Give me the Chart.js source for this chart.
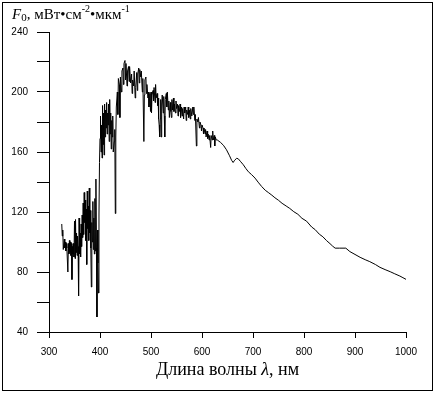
<!DOCTYPE html>
<html>
<head>
<meta charset="utf-8">
<script src="https://cdn.jsdelivr.net/npm/chart.js@4/dist/chart.umd.min.js"></script>
<style>
    body { margin: 0; background: #fff; }
    #wrap { position: relative; width: 435px; height: 393px; }
    #frame { position: absolute; left: 2px; top: 2px; width: 429px; height: 387px; border: 1px solid #000; pointer-events: none; }
    .lbl { position: absolute; font-family: 'Liberation Serif', 'Times New Roman', serif; color: #000; white-space: nowrap; }
    #yTitle { left: 12px; top: 7px; font-size: 15px; line-height: 15px; }
    #xTitle { left: 0; width: 455px; text-align: center; top: 360px; font-size: 18px; line-height: 18px; }
    .sub { font-size: 11px; position: relative; top: 2px; }
    .sup { font-size: 10px; position: relative; top: -7px; }
</style>
</head>
<body>
<div id="wrap">
    <canvas id="spectrum" width="435" height="393"></canvas>
    <div class="lbl" id="yTitle"><i>F</i><span class="sub">0</span>, мВт•см<span class="sup">-2</span>•мкм<span class="sup">-1</span></div>
    <div class="lbl" id="xTitle">Длина волны <i>λ</i>, нм</div>
    <div id="frame"></div>
</div>
<script>
//spectrum data
const wavelength = [
    325, 326, 327, 328, 330, 331, 332, 333, 334, 335, 337, 338, 339, 340, 341, 342, 343, 344, 345, 346,
    347, 348, 349, 350, 351, 352, 353, 354, 355, 356, 357, 358, 359, 360, 361, 362, 363, 364, 365, 366,
    367, 368, 369, 370, 371, 372, 373, 374, 375, 376, 377, 378, 379, 380, 381, 382, 383, 384, 385, 386,
    387, 388, 389, 390, 391, 392, 393, 394, 395, 396, 397, 398, 399, 400, 401, 402, 403, 404, 405, 406,
    407, 408, 409, 410, 411, 412, 413, 414, 415, 416, 417, 418, 419, 420, 421, 422, 423, 424, 425, 426,
    428, 429, 430, 431, 432, 434, 435, 436, 438, 439, 440, 442, 443, 445, 446, 447, 449, 450, 451, 453,
    454, 456, 457, 458, 460, 462, 463, 464, 466, 467, 469, 470, 472, 473, 474, 476, 477, 478, 480, 481,
    483, 484, 486, 487, 488, 490, 491, 492, 494, 495, 496, 498, 499, 500, 501, 502, 504, 505, 506, 508,
    509, 510, 512, 513, 514, 515, 516, 517, 518, 519, 520, 521, 522, 524, 525, 526, 527, 528, 530, 531,
    532, 534, 535, 536, 538, 539, 540, 541, 542, 544, 545, 546, 548, 549, 550, 552, 553, 554, 556, 557,
    558, 560, 561, 562, 564, 565, 566, 568, 569, 570, 572, 573, 574, 576, 577, 578, 580, 582, 583, 584,
    586, 587, 589, 590, 592, 593, 595, 596, 598, 599, 600, 602, 603, 604, 606, 607, 608, 610, 611, 612,
    614, 615, 617, 618, 620, 621, 622, 624, 625, 626, 628, 630, 636, 642, 648, 654, 658, 661, 664, 668,
    671, 676, 681, 686, 691, 697, 704, 710, 717, 724, 730, 737, 743, 750, 757, 765, 772, 780, 788, 796,
    805, 815, 822, 830, 837, 844, 851, 856, 861, 870, 882, 890, 900, 910, 920, 929, 940, 949, 959, 969,
    978, 988, 994, 1000
];
const flux = [
    112, 104, 108, 95, 102, 96, 100, 94, 99, 96, 80, 99, 92, 101, 93, 100, 91, 99, 75, 97,
    92, 99, 90, 114, 89, 115, 93, 106, 91, 104, 97, 64, 116, 92, 106, 90, 112, 97, 118, 103,
    126, 105, 133, 113, 128, 101, 122, 85, 134, 109, 124, 101, 136, 106, 121, 96, 70, 113, 100, 127,
    95, 116, 92, 129, 94, 142, 96, 50, 108, 86, 66, 118, 153, 169, 184, 160, 178, 156, 191, 165,
    186, 158, 192, 170, 188, 176, 193, 172, 186, 178, 192, 167, 195, 172, 186, 162, 181, 170, 184, 160,
    167, 175, 119, 170, 190, 200, 185, 209, 205, 183, 210, 200, 214, 216, 205, 219, 221, 208, 219, 204,
    214, 217, 207, 217, 206, 212, 199, 208, 204, 214, 196, 203, 213, 201, 212, 216, 206, 215, 210, 214,
    200, 209, 167, 198, 208, 210, 199, 205, 196, 200, 190, 199, 187, 200, 186, 198, 201, 194, 203, 193,
    205, 196, 199, 191, 196, 182, 178, 170, 182, 195, 170, 192, 198, 186, 197, 184, 170, 195, 199, 190,
    200, 188, 194, 183, 193, 187, 183, 195, 188, 196, 187, 192, 186, 194, 189, 192, 184, 191, 187, 192,
    183, 190, 184, 189, 182, 190, 186, 190, 181, 188, 185, 190, 183, 188, 182, 189, 184, 190, 185, 190,
    181, 185, 164, 182, 180, 183, 176, 180, 178, 174, 178, 176, 172, 176, 172, 175, 170, 174, 169, 172,
    168, 171, 163, 171, 168, 174, 168, 171, 164, 170, 168, 168, 166.5, 164.5, 161.5, 157.5, 154.5, 153, 154.5, 155.8,
    155.5, 153.5, 151.5, 149, 146.8, 145, 142.6, 139.9, 137, 134.5, 133, 131.2, 129.5, 127.8, 125.8, 124, 122.4, 120.2, 118.5, 115.8,
    113.9, 110, 108.2, 105.2, 103.5, 101, 98.9, 97.3, 95.9, 95.9, 95.9, 93.6, 91.7, 89.8, 88.2, 86.9, 85, 83.1, 81.6, 80.2,
    78.8, 77.3, 76.2, 75.1
];

//axis settings
const xTicks = { min: 300, max: 1000, step: 100 };
const yTicks = { min: 40, max: 240, step: 20, labelEvery: 40 };

const points = wavelength.map((w, i) => ({ x: w, y: flux[i] }));

const tickFont = { family: "'Liberation Sans', Arial, sans-serif", size: 10 };

//spectrum chart
const spectrumChart = () => {
    var ctx = document.getElementById('spectrum').getContext('2d');
    var chart = new Chart(ctx, {
        type: 'line',
        data: {
            datasets: [{
                data: points,
                borderColor: '#000',
                borderWidth: 1,
                pointRadius: 0,
                tension: 0,
                fill: false
            }]
        },
        options: {
            responsive: false,
            animation: false,
            events: [],
            layout: {
                padding: { left: 0, right: 29, top: 32, bottom: 0 }
            },
            plugins: {
                legend: { display: false },
                tooltip: { enabled: false }
            },
            scales: {
                x: {
                    type: 'linear',
                    min: xTicks.min,
                    max: xTicks.max,
                    ticks: {
                        stepSize: xTicks.step, color: '#000', font: tickFont, padding: 8, maxRotation: 0,
                        callback: (v) => String(v)
                    },
                    grid: { drawOnChartArea: false, tickLength: 6, color: '#000' },
                    border: { color: '#000', width: 1 },
                    afterFit: (s) => { s.height = 61; }
                },
                y: {
                    type: 'linear',
                    min: yTicks.min,
                    max: yTicks.max,
                    ticks: {
                        stepSize: yTicks.step, color: '#000', font: tickFont, padding: 9,
                        callback: (v) => (v % yTicks.labelEvery === 0 ? String(v) : '')
                    },
                    grid: { drawOnChartArea: false, tickLength: 12, color: '#000' },
                    border: { color: '#000', width: 1 },
                    afterFit: (s) => { s.width = 49; }
                }
            }
        }
    });
}
spectrumChart()
</script>
</body>
</html>
